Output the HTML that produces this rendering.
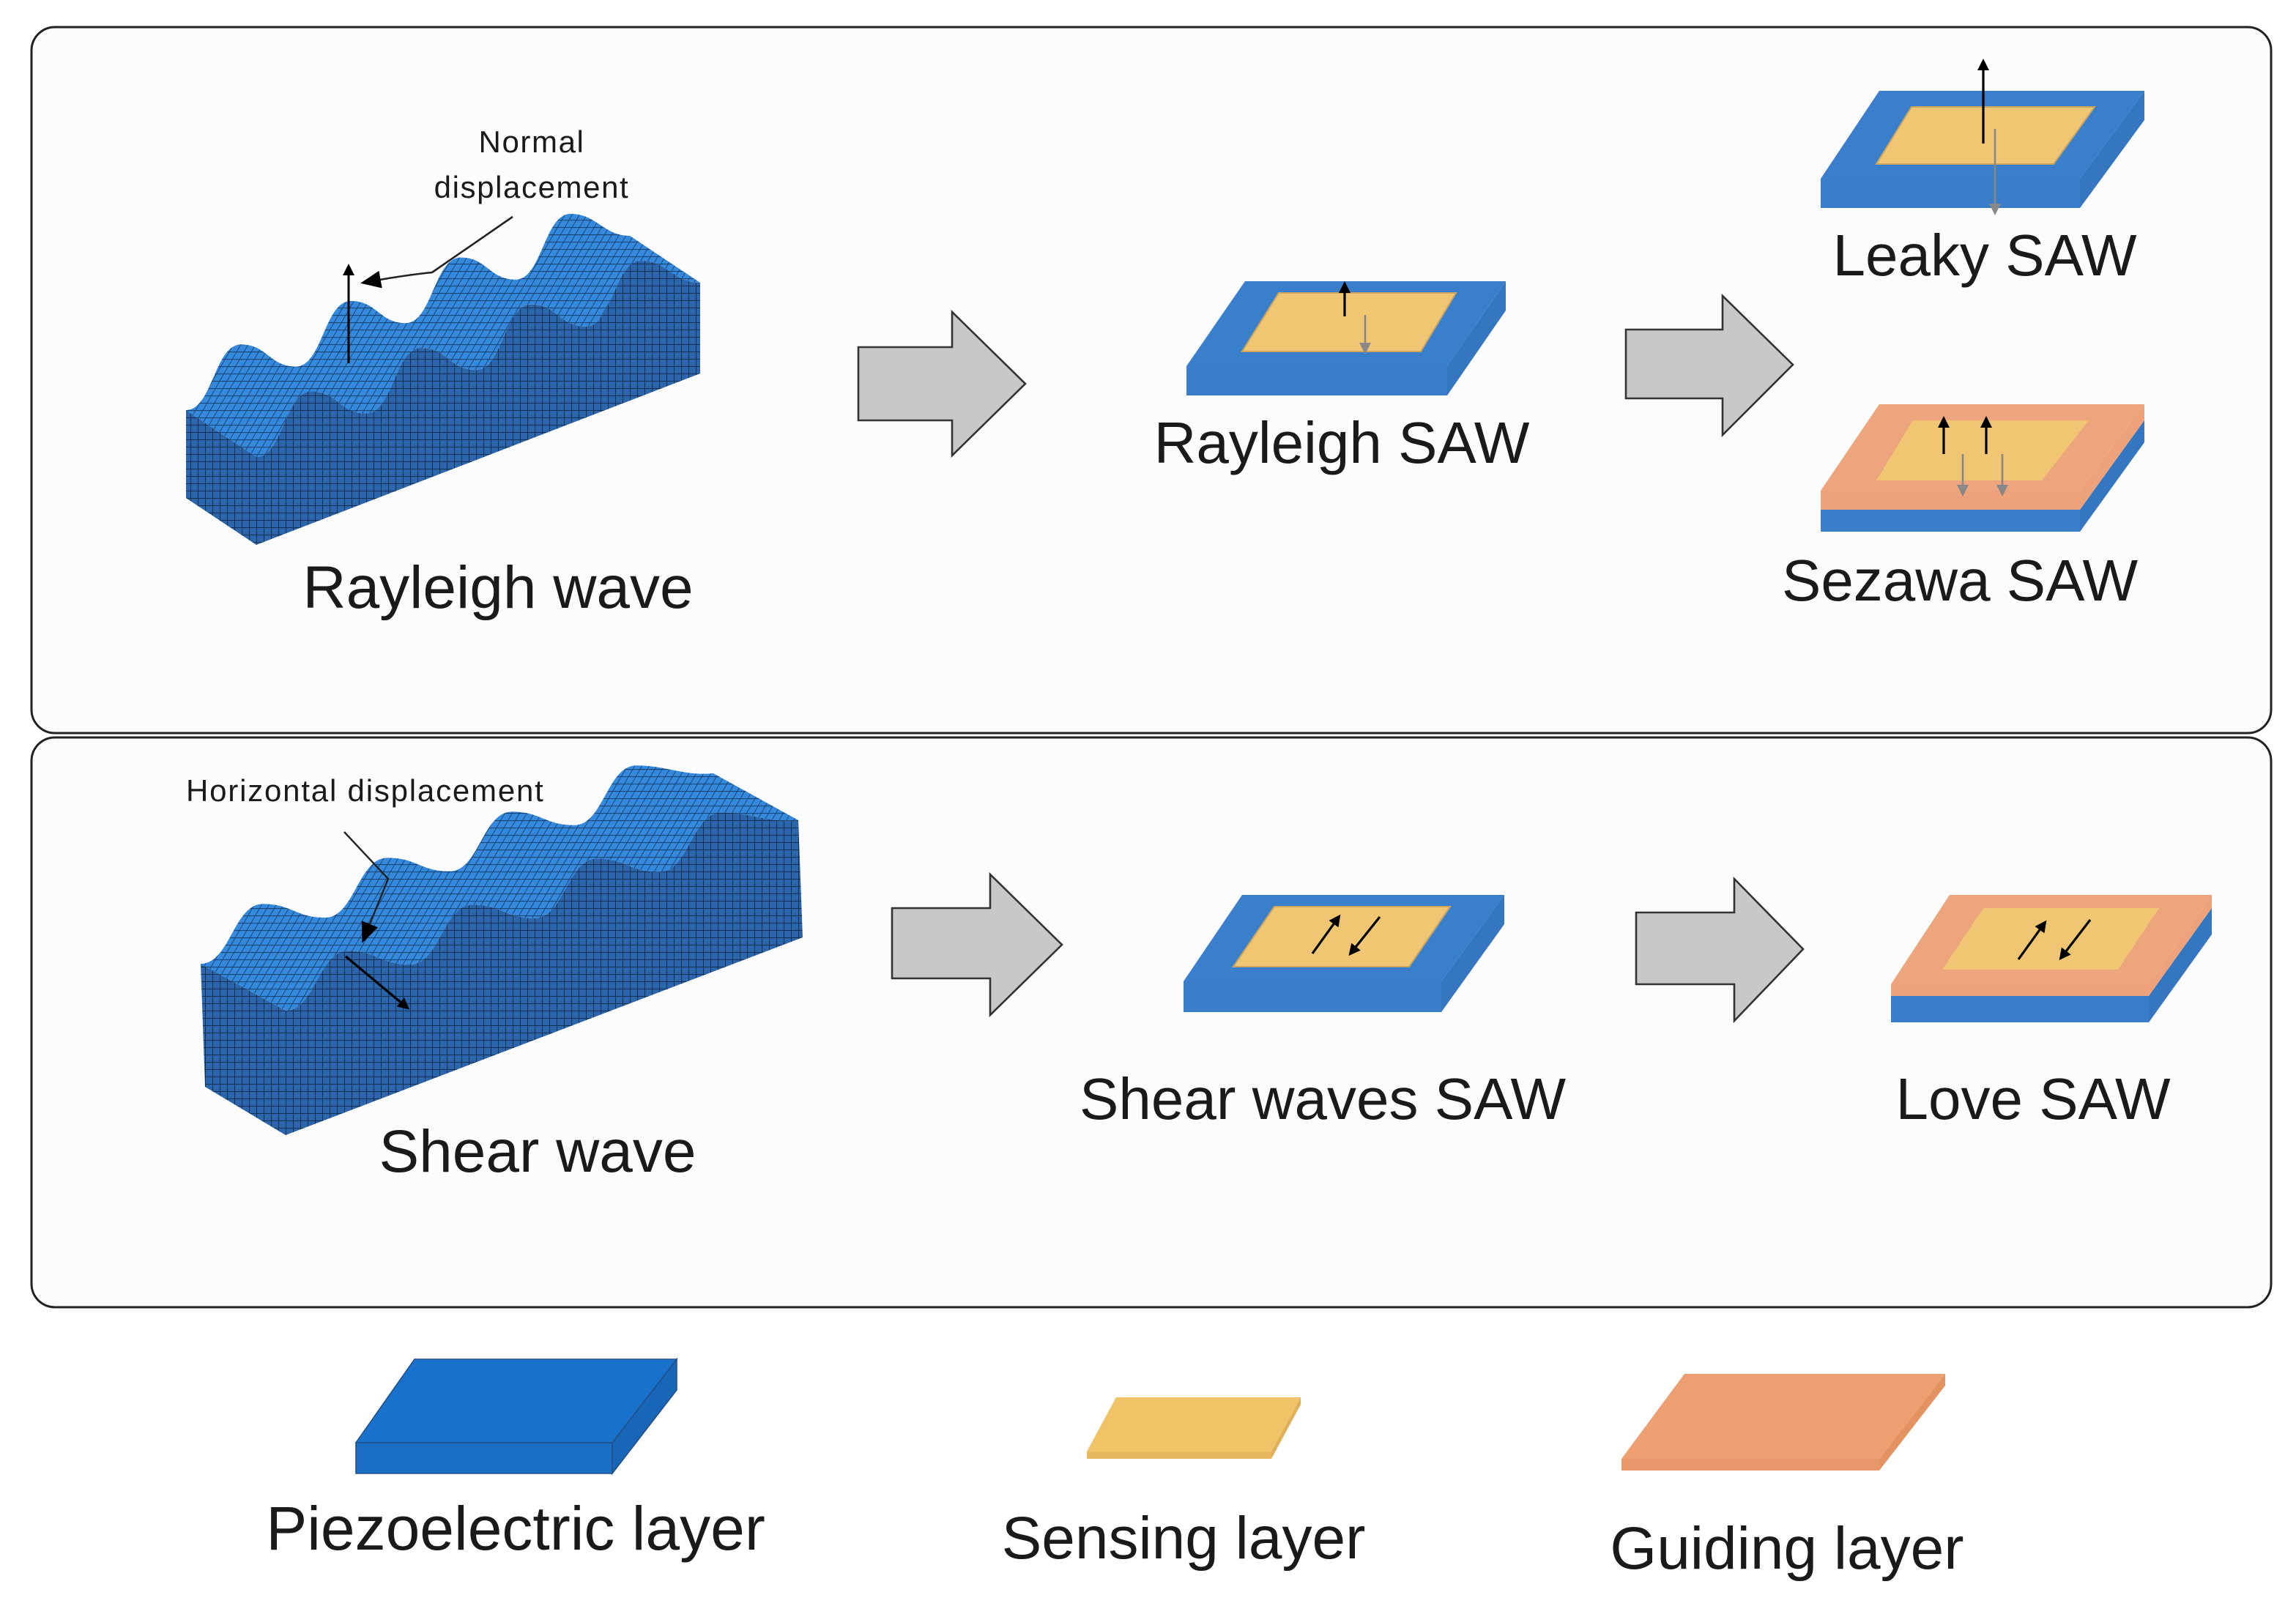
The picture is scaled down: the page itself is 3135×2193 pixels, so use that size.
<!DOCTYPE html>
<html><head><meta charset="utf-8"><style>
html,body{margin:0;padding:0;background:#fff}
svg{display:block}
text{font-family:"Liberation Sans","DejaVu Sans",sans-serif;fill:#1a1a1a}
</style></head><body>
<svg width="3135" height="2193" viewBox="0 0 1567.5 1096.5" xmlns="http://www.w3.org/2000/svg">
<defs>
<pattern id="mS" width="5" height="5" patternUnits="userSpaceOnUse">
<rect width="5" height="5" fill="#2b66ad"/><path d="M0 0V5M0 0H5" stroke="#10304f" stroke-width="1"/></pattern>
<pattern id="mT" width="5" height="5" patternUnits="userSpaceOnUse" patternTransform="skewX(-30)">
<rect width="5" height="5" fill="#3489dd"/><path d="M0 0V5M0 0H5" stroke="#16406d" stroke-width="1"/></pattern>
<marker id="ah" markerWidth="8" markerHeight="8" refX="6" refY="4" orient="auto" markerUnits="userSpaceOnUse"><path d="M0 0L8 4L0 8Z" fill="#000"/></marker>
<marker id="ahg" markerWidth="8" markerHeight="8" refX="6" refY="4" orient="auto" markerUnits="userSpaceOnUse"><path d="M0 0L8 4L0 8Z" fill="#888"/></marker>
<marker id="ahb" markerWidth="14" markerHeight="12" refX="12" refY="6" orient="auto" markerUnits="userSpaceOnUse"><path d="M0 0L14 6L0 12Z" fill="#000"/></marker>
</defs>
<rect width="1567.5" height="1096.5" fill="#fff"/>
<rect x="21.5" y="18.5" width="1529" height="482" rx="16" fill="#fcfcfc" stroke="#222" stroke-width="1.5"/>
<rect x="21.5" y="503.5" width="1529" height="389" rx="16" fill="#fcfcfc" stroke="#222" stroke-width="1.5"/>

<!-- Rayleigh wave block -->
<path d="M127 280 L175 312 L175 372 L127 340Z" fill="url(#mS)"/>
<path d="M175 312 C193 312 194.5 267.2 212.5 267.2 C230.5 267.2 232 282.3 250 282.3 C268 282.3 269.5 237.5 287.5 237.5 C305.5 237.5 307 252.6 325 252.6 C343 252.6 344.5 207.8 362.5 207.8 C380.5 207.8 382 222.9 400 222.9 C418 222.9 419.5 178 437.5 178 C455.5 178 460 193 478 193 L478 255 L175 372Z" fill="url(#mS)"/>
<path d="M127 280 C145 280 146.5 235.2 164.5 235.2 C182.5 235.2 184 250.3 202 250.3 C220 250.3 221.5 205.5 239.5 205.5 C257.5 205.5 259 220.6 277 220.6 C295 220.6 296.5 175.8 314.5 175.8 C332.5 175.8 334 190.9 352 190.9 C370 190.9 371.5 146 389.5 146 C407.5 146 412 161 430 161 L478 193 C460 193 455.5 178 437.5 178 C419.5 178 418 222.9 400 222.9 C382 222.9 380.5 207.8 362.5 207.8 C344.5 207.8 343 252.6 325 252.6 C307 252.6 305.5 237.5 287.5 237.5 C269.5 237.5 268 282.3 250 282.3 C232 282.3 230.5 267.2 212.5 267.2 C194.5 267.2 193 312 175 312 Z" fill="url(#mT)"/>
<line x1="238" y1="248" x2="238" y2="182" stroke="#000" stroke-width="1.5" marker-end="url(#ah)"/>
<path d="M350 148 L295 186 Q275 188 248 193" fill="none" stroke="#222" stroke-width="1.3" marker-end="url(#ahb)"/>
<text x="363" y="104" font-size="21" letter-spacing="0.8" text-anchor="middle">Normal</text>
<text x="363" y="135" font-size="21" letter-spacing="0.8" text-anchor="middle">displacement</text>
<text x="340" y="415" font-size="41" text-anchor="middle">Rayleigh wave</text>

<!-- arrows -->
<path d="M586 237H650V213L700 262L650 311V287H586Z" fill="#c8c8c8" stroke="#333" stroke-width="1.3"/>
<path d="M1110 225H1176V202L1224 249L1176 297V272H1110Z" fill="#c8c8c8" stroke="#333" stroke-width="1.3"/>
<path d="M609 620H676V597L725 645L676 693V668H609Z" fill="#c8c8c8" stroke="#333" stroke-width="1.3"/>
<path d="M1117 623H1184V600L1231 648L1184 697V672H1117Z" fill="#c8c8c8" stroke="#333" stroke-width="1.3"/>

<!-- Rayleigh SAW -->
<path d="M810 250H988V270H810Z" fill="#3a7dc9"/>
<path d="M988 250L1028 192V212L988 270Z" fill="#3476c0"/>
<path d="M810 250L850 192H1028L988 250Z" fill="#3a7fcc"/>
<path d="M848 240L873 200H994L970 240Z" fill="#f0c672" stroke="#c9a560" stroke-width="1"/>
<line x1="918" y1="216" x2="918" y2="194" stroke="#000" stroke-width="1.6" marker-end="url(#ah)"/>
<line x1="932" y1="215" x2="932" y2="240" stroke="#888" stroke-width="1.3" marker-end="url(#ahg)"/>
<text x="916" y="316" font-size="40" text-anchor="middle">Rayleigh SAW</text>

<!-- Leaky SAW -->
<path d="M1243 122H1420V142H1243Z" fill="#3a7dc9"/>
<path d="M1420 122L1464 62V82L1420 142Z" fill="#3476c0"/>
<path d="M1243 122L1283 62H1464L1420 122Z" fill="#3a7fcc"/>
<path d="M1281 112L1305 73H1430L1402 112Z" fill="#f0c672" stroke="#c9a560" stroke-width="1"/>
<line x1="1354" y1="98" x2="1354" y2="42" stroke="#000" stroke-width="1.6" marker-end="url(#ah)"/>
<line x1="1362" y1="88" x2="1362" y2="145" stroke="#888" stroke-width="1.3" marker-end="url(#ahg)"/>
<text x="1355" y="188" font-size="40" text-anchor="middle">Leaky SAW</text>

<!-- Sezawa SAW -->
<path d="M1243 335H1420V348H1243Z" fill="#eda27a"/>
<path d="M1243 348H1420V363H1243Z" fill="#3a7dc9"/>
<path d="M1420 335L1464 276V287L1420 348Z" fill="#eda27a"/>
<path d="M1420 348L1464 287V302L1420 363Z" fill="#3476c0"/>
<path d="M1243 335L1283 276H1464L1420 335Z" fill="#eda57e"/>
<path d="M1281 328L1306 287H1426L1394 328Z" fill="#f0c672"/>
<line x1="1327" y1="310" x2="1327" y2="286" stroke="#000" stroke-width="1.6" marker-end="url(#ah)"/>
<line x1="1356" y1="310" x2="1356" y2="286" stroke="#000" stroke-width="1.6" marker-end="url(#ah)"/>
<line x1="1340" y1="310" x2="1340" y2="337" stroke="#888" stroke-width="1.3" marker-end="url(#ahg)"/>
<line x1="1367" y1="310" x2="1367" y2="337" stroke="#888" stroke-width="1.3" marker-end="url(#ahg)"/>
<text x="1338" y="410" font-size="40" text-anchor="middle">Sezawa SAW</text>

<!-- Shear wave block -->
<path d="M137 658 L195 690 L195 775 L140 742Z" fill="url(#mS)"/>
<path d="M195 690 C215 690 217.5 649.2 237.5 649.2 C257.5 649.2 260 658.5 280 658.5 C300 658.5 302.5 617.7 322.5 617.7 C342.5 617.7 345 626.9 365 626.9 C385 626.9 387.5 586.2 407.5 586.2 C427.5 586.2 430 595.4 450 595.4 C470 595.4 472.5 554.6 492.5 554.6 C512.5 554.6 525 562 545 560 L548 640 L195 775Z" fill="url(#mS)"/>
<path d="M137 658 C157 658 159.5 617.2 179.5 617.2 C199.5 617.2 202 626.5 222 626.5 C242 626.5 244.5 585.7 264.5 585.7 C284.5 585.7 287 594.9 307 594.9 C327 594.9 329.5 554.2 349.5 554.2 C369.5 554.2 372 563.4 392 563.4 C412 563.4 414.5 522.6 434.5 522.6 C454.5 522.6 467 530 487 528 L545 560 C525 562 512.5 554.6 492.5 554.6 C472.5 554.6 470 595.4 450 595.4 C430 595.4 427.5 586.2 407.5 586.2 C387.5 586.2 385 626.9 365 626.9 C345 626.9 342.5 617.7 322.5 617.7 C302.5 617.7 300 658.5 280 658.5 C260 658.5 257.5 649.2 237.5 649.2 C217.5 649.2 215 690 195 690 Z" fill="url(#mT)"/>
<path d="M235 568 L265 600 L248 642" fill="none" stroke="#222" stroke-width="1.2" marker-end="url(#ahb)"/>
<line x1="236" y1="653" x2="278" y2="688" stroke="#000" stroke-width="1.6" marker-end="url(#ah)"/>
<text x="127" y="547" font-size="21" letter-spacing="0.9">Horizontal displacement</text>
<text x="367" y="800" font-size="41" text-anchor="middle">Shear wave</text>

<!-- Shear waves SAW -->
<path d="M808 670H984V691H808Z" fill="#3a7dc9"/>
<path d="M984 670L1027 611V631L984 691Z" fill="#3476c0"/>
<path d="M808 670L848 611H1027L984 670Z" fill="#3a7fcc"/>
<path d="M842 660L870 619H990L962 660Z" fill="#f0c672" stroke="#c9a560" stroke-width="1"/>
<line x1="896" y1="651" x2="914" y2="626" stroke="#000" stroke-width="1.6" marker-end="url(#ah)"/>
<line x1="942" y1="626" x2="922" y2="651" stroke="#000" stroke-width="1.6" marker-end="url(#ah)"/>
<text x="903" y="764" font-size="40" text-anchor="middle">Shear waves SAW</text>

<!-- Love SAW -->
<path d="M1291 672H1467V680H1291Z" fill="#eda27a"/>
<path d="M1291 680H1467V698H1291Z" fill="#3a7dc9"/>
<path d="M1467 672L1510 611V620L1467 680Z" fill="#eda27a"/>
<path d="M1467 680L1510 620V638L1467 698Z" fill="#3476c0"/>
<path d="M1291 672L1331 611H1510L1467 672Z" fill="#eda57e"/>
<path d="M1326 662L1354 620H1474L1446 662Z" fill="#f0c672"/>
<line x1="1378" y1="655" x2="1396" y2="630" stroke="#000" stroke-width="1.6" marker-end="url(#ah)"/>
<line x1="1427" y1="628" x2="1407" y2="654" stroke="#000" stroke-width="1.6" marker-end="url(#ah)"/>
<text x="1388" y="764" font-size="40" text-anchor="middle">Love SAW</text>

<!-- Legend -->
<path d="M243 985H418V1006H243Z" fill="#1a6ec4" stroke="#23508a" stroke-width="0.8"/>
<path d="M418 985L462 928V949L418 1006Z" fill="#1766b8" stroke="#23508a" stroke-width="0.8"/>
<path d="M243 985L283 928H462L418 985Z" fill="#1872cc" stroke="#23508a" stroke-width="0.8"/>
<text x="352" y="1058" font-size="42" text-anchor="middle">Piezoelectric layer</text>

<path d="M742 991H868V996H742Z" fill="#e8b85e"/>
<path d="M868 991L888 954V959L868 996Z" fill="#e0b058"/>
<path d="M742 991L762 954H888L868 991Z" fill="#f0c466"/>
<text x="808" y="1064" font-size="41" text-anchor="middle">Sensing layer</text>

<path d="M1107 996H1283V1004H1107Z" fill="#e8986a"/>
<path d="M1283 996L1328 938V946L1283 1004Z" fill="#e4925f"/>
<path d="M1107 996L1150 938H1328L1283 996Z" fill="#ee9f72"/>
<text x="1220" y="1071" font-size="41" text-anchor="middle">Guiding layer</text>
</svg>
</body></html>
